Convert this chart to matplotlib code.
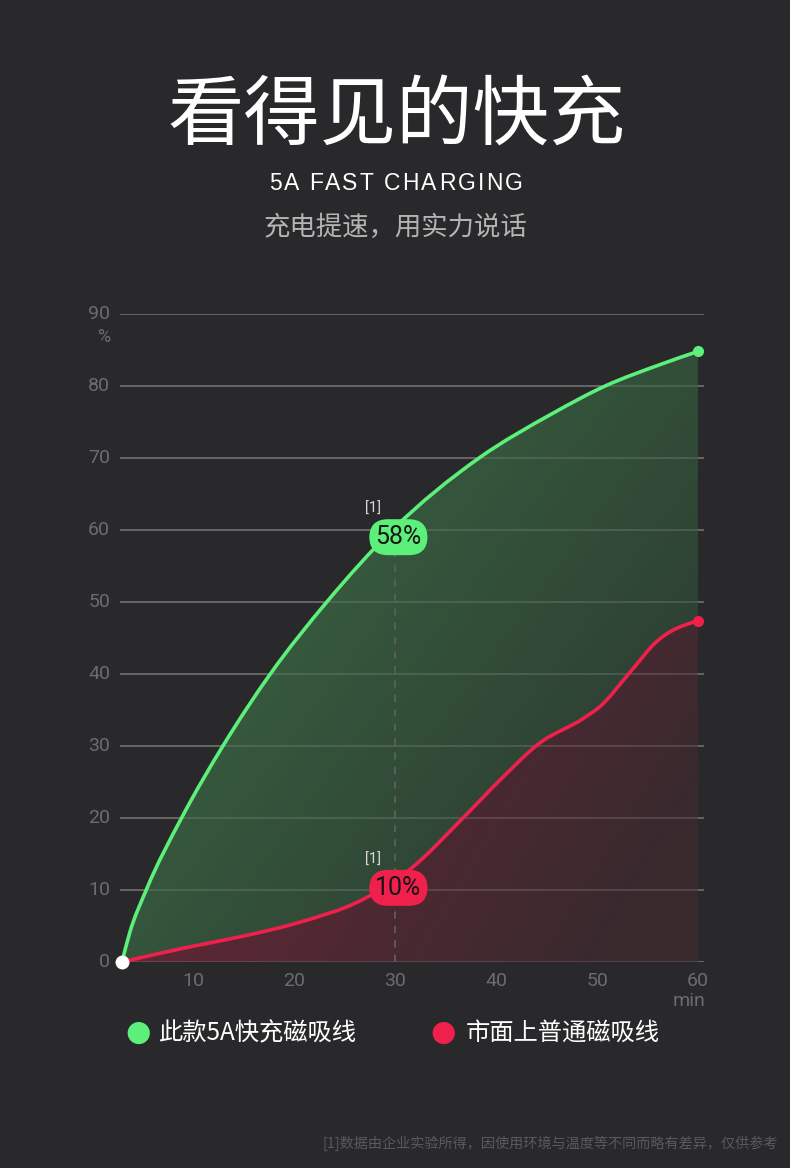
import numpy as np
import matplotlib
matplotlib.use("Agg")
import matplotlib.pyplot as plt
from matplotlib.path import Path
from matplotlib.patches import PathPatch
from matplotlib.font_manager import FontProperties

plt.rcParams['font.family'] = ['Noto Sans CJK SC', 'DejaVu Sans']

# ---- data ----
fast_x = [2.9, 3.65, 5.3, 8.8, 12.9, 17.6, 23.2, 29.7, 38.3, 45.6, 50.8, 56.1, 60.0]
fast_y = [0, 4, 10, 20, 30, 40, 50, 60, 70, 76.2, 80, 82.9, 84.8]
norm_x = [2.9, 9.6, 14.6, 20.2, 26.8, 31.4, 36.7, 40.4, 44.3, 48.6, 50.3, 53.3, 55.9, 60.0]
norm_y = [0, 2.1, 3.5, 5.4, 8.7, 12.8, 20, 25.3, 30.4, 33.8, 35.5, 40.3, 44.5, 47.4]
x_ticks = [10, 20, 30, 40, 50, 60]
y_ticks = [0, 10, 20, 30, 40, 50, 60, 70, 80, 90]
mark_x = 30
fast_label, norm_label = "58%", "10%"
fast_label_y, norm_label_y = 59, 10.3
series_names = ["此款5A快充磁吸线", "市面上普通磁吸线"]

BG = "#29292b"
GREEN = "#5cf07a"
RED = "#f0204c"
GRID = "#545456"
TICK = "#6c6c6e"
NUM = ['Roboto', 'DejaVu Sans']

W, H = 790, 1168
fig = plt.figure(figsize=(W / 100, H / 100), dpi=100, facecolor=BG)

L, R, B, T = 120, 704, 962, 314
ax = fig.add_axes([L / W, 1 - B / H, (R - L) / W, (B - T) / H])
ax.set_facecolor(BG)
xlim = (2.7, 60.6)
ylim = (0, 90)
ax.set_xlim(*xlim)
ax.set_ylim(*ylim)
for s in ax.spines.values():
    s.set_visible(False)
ax.set_xticks([])
ax.set_yticks([])

for yv in y_ticks:
    ax.axhline(yv, color=GRID, lw=1.4, zorder=1)


def smooth_path(xs, ys, close_to_base=False):
    """Cubic Hermite curve through the points (x-parametrised), as Bezier segments."""
    x = np.asarray(xs, float)
    y = np.asarray(ys, float)
    n = len(x)
    h = np.diff(x)
    d = np.diff(y) / h
    m = np.zeros(n)
    m[0] = d[0] + (d[0] - d[1]) * h[0] / (h[0] + h[1]) * 0.5
    m[-1] = d[-1] + (d[-1] - d[-2]) * h[-1] / (h[-1] + h[-2]) * 0.5
    for i in range(1, n - 1):
        m[i] = (d[i - 1] * h[i] + d[i] * h[i - 1]) / (h[i - 1] + h[i])
    verts = [(x[0], y[0])]
    codes = [Path.MOVETO]
    for i in range(n - 1):
        verts += [(x[i] + h[i] / 3, y[i] + m[i] * h[i] / 3),
                  (x[i + 1] - h[i] / 3, y[i + 1] - m[i + 1] * h[i] / 3),
                  (x[i + 1], y[i + 1])]
        codes += [Path.CURVE4] * 3
    if close_to_base:
        verts += [(x[-1], 0), (x[0], 0), (x[0], 0)]
        codes += [Path.LINETO, Path.LINETO, Path.CLOSEPOLY]
    return Path(verts, codes)


def gradient_image(c0, c1, wu, wv, n=256):
    u = np.linspace(0, 1, n)[None, :]
    v = np.linspace(0, 1, n)[:, None]
    t = np.clip(u * wu + v * wv, 0, 1)
    img = np.zeros((n, n, 3))
    for k in range(3):
        img[:, :, k] = c0[k] + (c1[k] - c0[k]) * t
    return img


def fill_grad(xs, ys, c0, c1, wu, wv, extent, z):
    patch = PathPatch(smooth_path(xs, ys, True), facecolor='none', edgecolor='none')
    ax.add_patch(patch)
    im = ax.imshow(gradient_image(c0, c1, wu, wv), extent=extent,
                   origin='upper', aspect='auto', zorder=z, interpolation='bilinear')
    im.set_clip_path(patch)


fill_grad(fast_x, fast_y, (0.24, 0.44, 0.28), (0.17, 0.22, 0.185), 0.6, 0.5,
          [xlim[0], xlim[1], 0, 90], 2)
fill_grad(norm_x, norm_y, (0.44, 0.15, 0.22), (0.22, 0.165, 0.18), 0.85, 0.3,
          [xlim[0], xlim[1], 0, max(norm_y)], 3)
for yv in y_ticks:
    ax.axhline(yv, color="#9a9a9a", lw=1.2, alpha=0.3, zorder=4)

ax.plot([mark_x, mark_x], [0, fast_label_y], color="#5e5e5e", lw=1.3, ls=(0, (4, 4)), zorder=4)

for xs, ys, col in [(fast_x, fast_y, GREEN), (norm_x, norm_y, RED)]:
    ax.add_patch(PathPatch(smooth_path(xs, ys), facecolor='none', edgecolor=col, lw=2.6,
                           zorder=6, capstyle='round', joinstyle='round'))
ax.scatter([fast_x[-1]], [fast_y[-1]], s=64, color=GREEN, zorder=7, clip_on=False, linewidths=0)
ax.scatter([norm_x[-1]], [norm_y[-1]], s=64, color=RED, zorder=7, clip_on=False, linewidths=0)
ax.scatter([fast_x[0]], [fast_y[0]], s=100, color="white", zorder=8, clip_on=False, linewidths=0)

for lab, ly, col in [(fast_label, fast_label_y, GREEN), (norm_label, norm_label_y, RED)]:
    ax.text(mark_x + 0.3, ly, lab, ha='center', va='center', fontsize=18, color="#161616",
            family=NUM, zorder=9,
            bbox=dict(boxstyle="round,pad=0.24,rounding_size=0.75", fc=col, ec='none'))
    ax.text(mark_x - 2.2, ly + 3.9, "[1]", ha='center', va='center', fontsize=10.5,
            color="#d8d8d8", family=NUM, zorder=9)

# tick labels
for yv in y_ticks:
    ax.text(-0.017, (yv - ylim[0]) / (ylim[1] - ylim[0]), str(yv), transform=ax.transAxes,
            ha='right', va='center', fontsize=14, color=TICK, family=NUM)
ax.text(-0.017, 1 - 23 / (B - T), "%", transform=ax.transAxes, ha='right', va='center',
        fontsize=13, color=TICK, family=NUM)
for xv in x_ticks:
    ax.text(xv, -2.6, str(xv), ha='center', va='center', fontsize=14, color=TICK, family=NUM)
ax.text(1.003, -39 / (B - T), "min", transform=ax.transAxes, ha='right', va='center',
        fontsize=14, color=TICK, family=NUM)

# titles
fig.text(397 / W, 1 - 117 / H, "看得见的快充", ha='center', va='center', fontsize=55,
         color="white", fontweight='light')

# letter-spaced subtitle line
renderer = fig.canvas.get_renderer()
sub = "5A FAST CHARGING"
prop = FontProperties(family=['Liberation Sans', 'DejaVu Sans'], size=16.5)
spacing = 2.3
widths = [renderer.get_text_width_height_descent(sub[:i], prop, ismath=False)[0] if i else 0
          for i in range(len(sub) + 1)]
total = widths[-1] + spacing * (len(sub) - 1)
x0 = 396 - total / 2
for i, ch in enumerate(sub):
    if ch == " ":
        continue
    px = x0 + widths[i] + spacing * i
    fig.text(px / W, 1 - 183 / H, ch, ha='left', va='center', fontproperties=prop, color="white")

fig.text(395 / W, 1 - 227 / H, "充电提速，用实力说话", ha='center', va='center', fontsize=19,
         color="#b4b4b4")

# legend
fig.text(138 / W, 1 - 1033 / H, "●", ha='center', va='center', fontsize=21, color=GREEN,
         family=['DejaVu Sans'])
fig.text(159 / W, 1 - 1033 / H, series_names[0], ha='left', va='center', fontsize=17.5, color="white")
fig.text(443 / W, 1 - 1033 / H, "●", ha='center', va='center', fontsize=21, color=RED,
         family=['DejaVu Sans'])
fig.text(466 / W, 1 - 1033 / H, series_names[1], ha='left', va='center', fontsize=17.5, color="white")

fig.text(778 / W, 1 - 1143 / H, "[1]数据由企业实验所得，因使用环境与温度等不同而略有差异，仅供参考",
         ha='right', va='center', fontsize=10.2, color="#5a5a5c")

fig.savefig("out.png", dpi=100, facecolor=BG)
